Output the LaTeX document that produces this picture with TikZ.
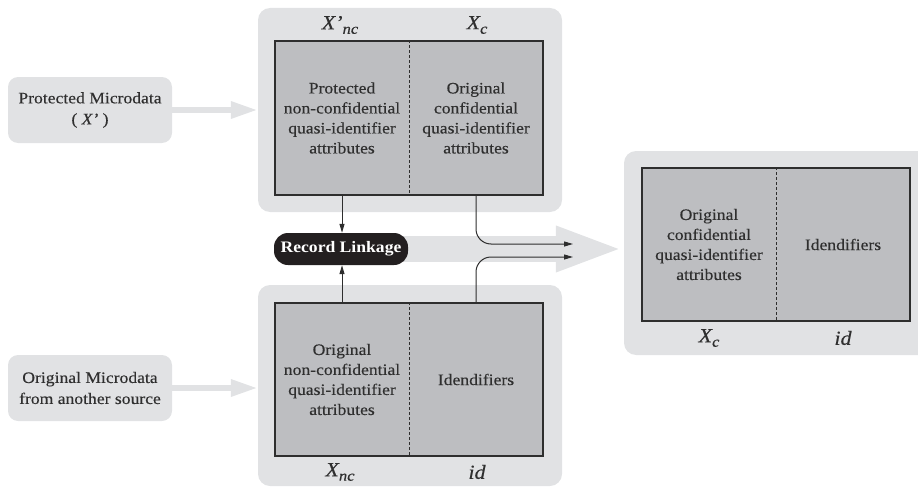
\documentclass[tikz,border=0pt]{standalone}
\usepackage{fontspec}
\setmainfont[FakeStretch=1.1, UprightFeatures={FakeBold=0.25}, ItalicFeatures={FakeBold=0.25}]{Liberation Serif}
\usetikzlibrary{arrows.meta}
\pgfdeclarelayer{background}
\pgfsetlayers{background,main}
\definecolor{panelgray}{HTML}{E1E2E4}
\definecolor{cellgray}{HTML}{BDBEC1}
\definecolor{linegray}{HTML}{2E2E2E}
\definecolor{txtgray}{HTML}{2F2F2F}
\definecolor{rlblack}{HTML}{231F20}
\tikzset{
  panel/.style={fill=panelgray, rounded corners=12pt, inner sep=0pt},
  srcbox/.style={fill=panelgray, rounded corners=10pt, inner sep=0pt, text=txtgray, align=center,
     font=\fontsize{16}{21}\selectfont, minimum width=164pt, minimum height=66pt},
  table/.style={fill=cellgray, draw=linegray, line width=1.1pt, inner sep=0pt, minimum width=268pt},
  celltext/.style={text=txtgray, align=center, font=\fontsize{16}{20}\selectfont, inner sep=0pt},
  divider/.style={draw=linegray, line width=1pt, dash pattern=on 3pt off 2pt},
  lbl/.style={text=txtgray, font=\fontsize{20}{22}\selectfont\itshape, inner sep=0pt},
  garrow/.style={draw=panelgray, line width=6pt, -{Triangle[length=27pt,width=16pt]}},
  bigarrow/.style={draw=panelgray, line width=26pt, -{Triangle[length=68pt,width=41pt]}},
  thinarrow/.style={draw=linegray, line width=1pt, -{Triangle[length=9pt,width=5pt]}},
  rlbox/.style={fill=rlblack, rounded corners=14pt, text=white, inner sep=0pt,
     font=\fontsize{16}{18}\selectfont\bfseries, minimum width=134pt, minimum height=32pt}
}
\newcommand{\subsc}[1]{\raisebox{-4.5pt}{\fontsize{15}{15}\selectfont #1}}
\begin{document}
\begin{tikzpicture}[x=1pt,y=-1pt]
\useasboundingbox (0,0) rectangle (918,487);
% panels
\node[panel, minimum width=304pt, minimum height=204pt] (toppanel) at (410,110) {};
\node[panel, minimum width=304pt, minimum height=201pt] (botpanel) at (410,385.5) {};
\node[panel, minimum width=306pt, minimum height=204pt] (rightpanel) at (777,253) {};
% source boxes
\node[srcbox] (lefttop) at (90,110) {Protected Microdata\\( \textit{X’} )};
\node[srcbox] (leftbot) at (90,388) {Original Microdata\\from another source};
% tables
\node[table, minimum height=154pt] (toptable) at (409,118) {};
\node[table, minimum height=153pt] (bottable) at (409,379.5) {};
\node[table, minimum height=153pt] (righttable) at (776,244.5) {};
\draw[divider] (toptable.north) -- (toptable.south);
\draw[divider] (bottable.north) -- (bottable.south);
\draw[divider] (righttable.north) -- (righttable.south);
% cell texts
\node[celltext] (tL) at (342,118) {Protected\\non-confidential\\quasi-identifier\\attributes};
\node[celltext] (tR) at (476,118) {Original\\confidential\\quasi-identifier\\attributes};
\node[celltext] (bL) at (342,379.5) {Original\\non-confidential\\quasi-identifier\\attributes};
\node[celltext] (bR) at (476,379.5) {Idendifiers};
\node[celltext] (rL) at (709,244.5) {Original\\confidential\\quasi-identifier\\attributes};
\node[celltext] (rR) at (843,244.5) {Idendifiers};
% labels
\node[lbl] (l1) at (340,25) {X’\subsc{nc}};
\node[lbl] (l2) at (477,25) {X\subsc{c}};
\node[lbl] (l3) at (340,472) {X\subsc{nc}};
\node[lbl] (l4) at (477,472) {id};
\node[lbl] (l5) at (709,338) {X\subsc{c}};
\node[lbl] (l6) at (843,338) {id};
% record linkage
\node[rlbox] (rl) at (341,249) {Record Linkage};
\begin{pgfonlayer}{background}
\draw[bigarrow] (rl.center) -- (rightpanel.west |- rl.center);
\end{pgfonlayer}
% grey input arrows
\draw[garrow] (lefttop.east) -- (toppanel.west |- lefttop.east);
\draw[garrow] (leftbot.east) -- (botpanel.west |- leftbot.east);
% thin arrows
\coordinate (e1) at (573,244);
\coordinate (e2) at (573,257);
\draw[thinarrow] (tL |- toptable.south) -- (tL |- rl.north);
\draw[thinarrow] (tL |- bottable.north) -- (tL |- rl.south);
\draw[thinarrow, rounded corners=15pt] (tR |- toptable.south) |- (e1);
\draw[thinarrow, rounded corners=15pt] (tR |- bottable.north) |- (e2);
\end{tikzpicture}
\end{document}
